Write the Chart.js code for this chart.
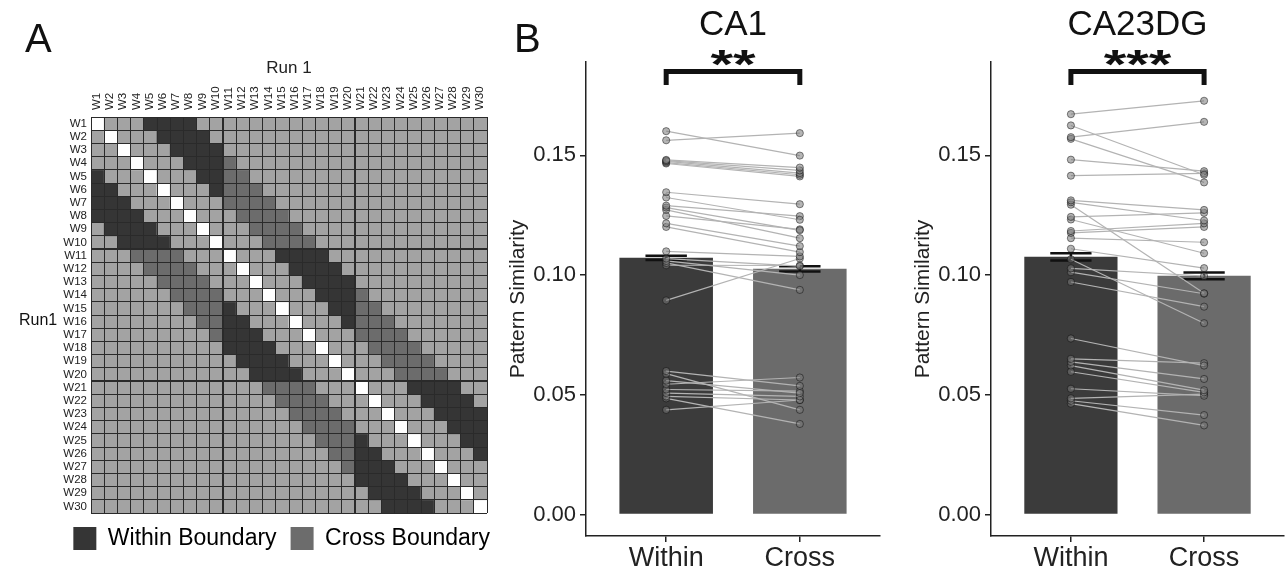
<!DOCTYPE html>
<html>
<head>
<meta charset="utf-8">
<script src="https://cdn.jsdelivr.net/npm/chart.js@4.4.1/dist/chart.umd.min.js"></script>
<style>
  html, body { margin: 0; padding: 0; background: #fff; overflow: hidden; }
  body { width: 1285px; height: 571px; position: relative; font-family: Arial, "Liberation Sans", Helvetica, sans-serif; }
  .box { position: absolute; top: 0; height: 571px; }
  .lbl { position: absolute; line-height: 1; color: #111; white-space: nowrap; }
</style>
</head>
<body>
<div class="box" style="left:0;width:510px"><canvas id="matrix"></canvas></div>
<div class="box" style="left:500px;width:385px"><canvas id="ca1"></canvas></div>
<div class="box" style="left:905px;width:384px"><canvas id="ca23"></canvas></div>
<div class="lbl" style="left:25px;top:18px;font-size:40px">A</div>
<div class="lbl" style="left:514px;top:18px;font-size:40px">B</div>
<div class="lbl" style="left:19px;top:312px;font-size:16px">Run1</div>
<script>
// ---- panel A: window x window matrix ----
const colLabels = ['W1','W2','W3','W4','W5','W6','W7','W8','W9','W10',
  'W11','W12','W13','W14','W15','W16','W17','W18','W19','W20',
  'W21','W22','W23','W24','W25','W26','W27','W28','W29','W30'];
const rowLabels = colLabels.slice();

// d = same window, w = within boundary, c = cross boundary, . = other
const cellRows = [
  'd...wwww.. .......... ..........',
  '.d...wwww. .......... ..........',
  '..d...wwww .......... ..........',
  '...d...www c......... ..........',
  'w...d...ww cc........ ..........',
  'ww...d...w ccc....... ..........',
  'www...d... cccc...... ..........',
  'wwww...d.. .cccc..... ..........',
  '.wwww...d. ..cccc.... ..........',
  '..wwww...d ...cccc... ..........',
  '...cccc... d...wwww.. ..........',
  '....cccc.. .d...wwww. ..........',
  '.....cccc. ..d...wwww ..........',
  '......cccc ...d...www c.........',
  '.......ccc w...d...ww cc........',
  '........cc ww...d...w ccc.......',
  '.........c www...d... cccc......',
  '.......... wwww...d.. .cccc.....',
  '.......... .wwww...d. ..cccc....',
  '.......... ..wwww...d ...cccc...',
  '.......... ...cccc... d...wwww..',
  '.......... ....cccc.. .d...wwww.',
  '.......... .....cccc. ..d...wwww',
  '.......... ......cccc ...d...www',
  '.......... .......ccc w...d...ww',
  '.......... ........cc ww...d...w',
  '.......... .........c www...d...',
  '.......... .......... wwww...d..',
  '.......... .......... .wwww...d.',
  '.......... .......... ..wwww...d'
].map(r => r.replace(/ /g, ''));

const cellColors = { '.': '#a3a3a3', d: '#ffffff', w: '#353535', c: '#6c6c6c' };
const legendItems = [['Within Boundary', 'w'], ['Cross Boundary', 'c']];
const blockSize = 10;

// ---- panel B: pattern similarity ----
const groups = ['Within', 'Cross'];
const yTicks = [0, 0.05, 0.10, 0.15];
const barColors = ['#3b3b3b', '#6b6b6b'];
const sigBracket = [0.1794, 0.1850];

const ca1Mean = [0.1072, 0.1026];
const ca1Se = [0.0009, 0.0011];
const ca1Within = [0.1601, 0.1563, 0.1481, 0.1478, 0.1475, 0.1470, 0.1466, 0.1346, 0.1324, 0.1290,
  0.1282, 0.1272, 0.1247, 0.1216, 0.1201, 0.1099, 0.1069, 0.1059, 0.1051, 0.1041,
  0.0894, 0.0599, 0.0588, 0.0559, 0.0544, 0.0522, 0.0507, 0.0493, 0.0485, 0.0437];
const ca1Cross = [0.1499, 0.1593, 0.1449, 0.1437, 0.1426, 0.1419, 0.1412, 0.1296, 0.1231, 0.1246,
  0.1187, 0.1154, 0.1191, 0.1121, 0.1096, 0.1078, 0.1037, 0.1000, 0.0938, 0.1040,
  0.1069, 0.0537, 0.0437, 0.0507, 0.0572, 0.0515, 0.0493, 0.0478, 0.0378, 0.0478];

const ca23Mean = [0.1076, 0.0997];
const ca23Se = [0.0015, 0.0014];
const ca23Within = [0.1672, 0.1625, 0.1576, 0.1569, 0.1482, 0.1415, 0.1312, 0.1304, 0.1294, 0.1243,
  0.1232, 0.1184, 0.1176, 0.1154, 0.1110, 0.1066, 0.1028, 0.1012, 0.0971, 0.0735,
  0.0650, 0.0637, 0.0622, 0.0596, 0.0525, 0.0485, 0.0475, 0.0463];
const ca23Cross = [0.1728, 0.1419, 0.1640, 0.1387, 0.1434, 0.1425, 0.1272, 0.1228, 0.0924, 0.1260,
  0.1091, 0.1216, 0.1201, 0.1137, 0.1029, 0.0799, 0.0996, 0.0922, 0.0868, 0.0622,
  0.0632, 0.0566, 0.0519, 0.0510, 0.0496, 0.0503, 0.0415, 0.0372];

Chart.defaults.font.family = 'Arial, "Liberation Sans", Helvetica, sans-serif';
Chart.defaults.color = '#222';
Chart.defaults.animation = false;

// matrix: one stacked bar per cell, rows are datasets
const lineW = i => (i % blockSize === 0 && i > 0 && i < colLabels.length) ? 2 : 1;

new Chart(document.getElementById('matrix'), {
  type: 'bar',
  data: {
    labels: colLabels,
    datasets: cellRows.map((row, r) => ({
      label: rowLabels[r],
      data: colLabels.map(() => 1),
      backgroundColor: row.split('').map(k => cellColors[k]),
      borderWidth: 0,
      barPercentage: 1,
      categoryPercentage: 1
    }))
  },
  options: {
    responsive: true,
    maintainAspectRatio: false,
    layout: { padding: { left: 0, right: 6, top: 0, bottom: 11 } },
    plugins: {
      tooltip: { enabled: false },
      legend: {
        position: 'bottom', fullSize: true, align: 'end', onClick: null,
        labels: {
          boxWidth: 23, boxHeight: 23, padding: 14,
          font: { size: 23 }, color: '#222',
          generateLabels: () => legendItems.map(([text, k]) => ({
            text, fillStyle: cellColors[k], strokeStyle: cellColors[k], lineWidth: 0, hidden: false
          }))
        }
      }
    },
    scales: {
      x: {
        type: 'category', position: 'top', stacked: true, offset: true,
        grid: { offset: true, z: 1, color: '#2a2a2a', lineWidth: c => lineW(c.index), drawTicks: false },
        border: { z: 1, color: '#2a2a2a' },
        ticks: { autoSkip: false, minRotation: 90, maxRotation: 90, padding: 7, labelOffset: 13,
          font: { size: 11.5 }, color: '#222' },
        title: { display: true, text: 'Run 1', font: { size: 17 }, color: '#222', padding: { top: 58, bottom: 0 } },
        afterFit: s => { s.height = 117; }
      },
      y: {
        type: 'linear', stacked: true, reverse: true, min: 0, max: rowLabels.length,
        afterBuildTicks: s => { s.ticks = rowLabels.concat(['']).map((_, i) => ({ value: i })); },
        ticks: { display: false },
        grid: { z: 1, color: '#2a2a2a', lineWidth: c => lineW(c.index), drawTicks: false },
        border: { z: 1, color: '#2a2a2a' },
        afterFit: s => { s.width = 0; }
      },
      yRows: {
        type: 'linear', position: 'left', reverse: true, min: 0, max: rowLabels.length,
        afterBuildTicks: s => { s.ticks = rowLabels.map((_, i) => ({ value: i + 0.5 })); },
        ticks: { autoSkip: false, callback: (v, i) => rowLabels[i], font: { size: 11.5 }, color: '#222', padding: 4 },
        grid: { display: false, drawTicks: false },
        border: { display: false },
        afterFit: s => { s.width = 91; }
      },
      // empty spacer on the right so the legend can run past the grid edge
      ySpacer: {
        type: 'linear', position: 'right', min: 0, max: 1,
        ticks: { display: false }, grid: { display: false }, border: { display: false },
        afterFit: s => { s.width = 17; }
      }
    }
  }
});

// significance stars above the bracket (glyphs widened a little, as in the original)
const starsPlugin = {
  id: 'stars',
  afterDraw(chart, args, opts) {
    const { ctx, scales: { x, y } } = chart;
    const cx = x.getPixelForValue((1 + groups.length) / 2);
    const by = y.getPixelForValue(sigBracket[1]);
    ctx.save();
    ctx.translate(cx, by + opts.dy);
    ctx.scale(opts.stretch, 1);
    ctx.font = 'bold ' + opts.size + 'px Arial, "Liberation Sans", sans-serif';
    ctx.fillStyle = '#111';
    ctx.textAlign = 'center';
    ctx.textBaseline = 'alphabetic';
    ctx.fillText(opts.text, 0, 0);
    ctx.restore();
  }
};

function pairedChart(id, title, means, ses, within, cross, stars, padRight) {
  const capHalf = 0.155;
  const datasets = [{
    type: 'bar',
    data: groups.map((g, i) => ({ x: i + 1, y: means[i] })),
    backgroundColor: barColors,
    borderWidth: 0,
    barPercentage: 0.7,
    categoryPercentage: 1,
    order: 3
  }];
  means.forEach((m, i) => {
    const x = i + 1, lo = m - ses[i], hi = m + ses[i];
    [
      [{ x, y: lo }, { x, y: hi }],
      [{ x: x - capHalf, y: hi }, { x: x + capHalf, y: hi }],
      [{ x: x - capHalf, y: lo }, { x: x + capHalf, y: lo }]
    ].forEach(seg => datasets.push({
      type: 'line', data: seg, borderColor: '#111', borderWidth: 2.5, pointRadius: 0, order: 2
    }));
  });
  within.forEach((w, k) => datasets.push({
    type: 'line',
    data: [{ x: 1, y: w }, { x: 2, y: cross[k] }],
    borderColor: '#b3b3b3',
    borderWidth: 1.2,
    pointRadius: 3.6,
    pointBackgroundColor: 'rgba(120,120,120,0.55)',
    pointBorderColor: 'rgba(0,0,0,0.45)',
    pointBorderWidth: 1,
    order: 1
  }));
  datasets.push({
    type: 'line',
    data: [{ x: 1, y: sigBracket[0] }, { x: 1, y: sigBracket[1] }, { x: 2, y: sigBracket[1] }, { x: 2, y: sigBracket[0] }],
    borderColor: '#111', borderWidth: 5, pointRadius: 0,
    borderJoinStyle: 'miter', borderCapStyle: 'butt', order: 0
  });

  new Chart(document.getElementById(id), {
    type: 'bar',
    data: { datasets },
    plugins: [starsPlugin],
    options: {
      responsive: true,
      maintainAspectRatio: false,
      layout: { padding: { left: 0, right: padRight, top: 0, bottom: 0 } },
      plugins: {
        legend: { display: false },
        tooltip: { enabled: false },
        title: {
          display: true, text: title, fullSize: false,
          font: { size: 35, weight: 'normal' }, color: '#111',
          padding: { top: 4, bottom: 16 }
        },
        stars: { text: stars, size: 40, stretch: 1.45, dy: 6 }
      },
      scales: {
        x: {
          type: 'linear', min: 0.4, max: 2.6, offset: false,
          afterBuildTicks: s => { s.ticks = groups.map((g, i) => ({ value: i + 1 })); },
          ticks: { callback: (v, i) => groups[i], font: { size: 27 }, color: '#222', padding: 0 },
          grid: { offset: false, drawOnChartArea: false, drawTicks: true, tickLength: 6, color: '#222', lineWidth: 1.5 },
          border: { color: '#222', width: 1.5 },
          afterFit: s => { s.height = 35; }
        },
        y: {
          type: 'linear', min: -0.009, max: 0.189,
          afterBuildTicks: s => { s.ticks = yTicks.map(v => ({ value: v })); },
          ticks: { callback: v => v.toFixed(2), font: { size: 22 }, color: '#222', padding: 4 },
          grid: { drawOnChartArea: false, drawTicks: true, tickLength: 6, color: '#222', lineWidth: 1.5 },
          border: { color: '#222', width: 1.5 },
          title: { display: true, text: 'Pattern Similarity', font: { size: 21 }, color: '#222', padding: { top: 6, bottom: 0 } },
          afterFit: s => { s.width = 86; }
        }
      }
    }
  });
}

pairedChart('ca1', 'CA1', ca1Mean, ca1Se, ca1Within, ca1Cross, '**', 4);
pairedChart('ca23', 'CA23DG', ca23Mean, ca23Se, ca23Within, ca23Cross, '***', 0);
</script>
</body>
</html>
